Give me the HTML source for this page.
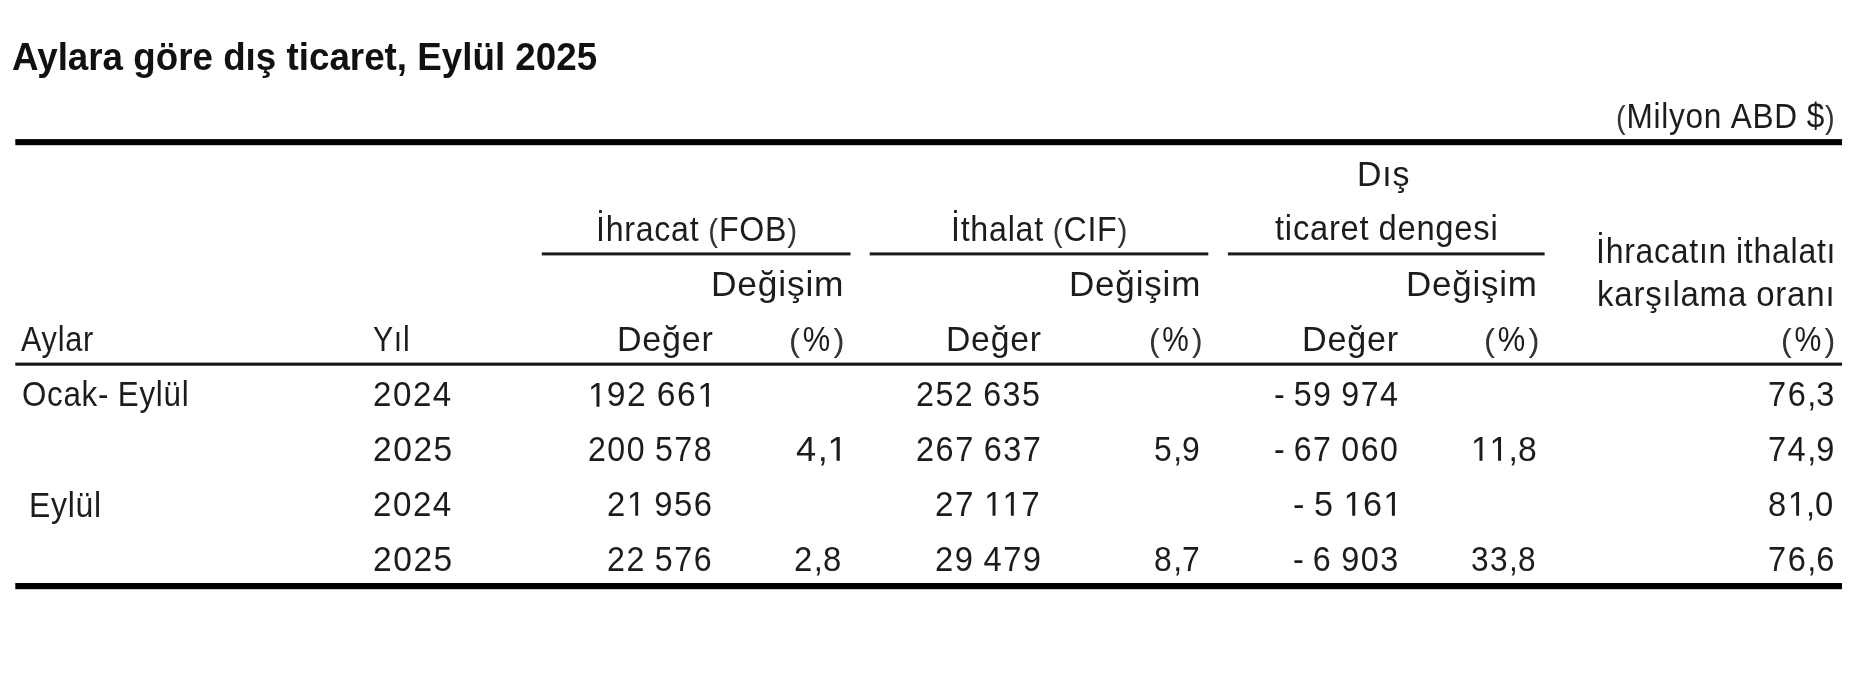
<!DOCTYPE html><html><head><meta charset="utf-8"><style>
html,body{margin:0;padding:0;background:#fff;}body{width:1865px;height:675px;position:relative;overflow:hidden;font-family:"Liberation Sans",sans-serif;color:#1c1c1c;}
.t{position:absolute;white-space:nowrap;line-height:1;transform-origin:0 0;}.l{position:absolute;}.z{letter-spacing:0}.pp{font-size:0.92em;color:#333;}.pct{display:inline-block;transform:scaleX(0.86);}.o{display:inline-block;width:0.5562em;height:0.688em;vertical-align:baseline;fill:currentColor;overflow:visible}
</style></head><body>
<div style="position:absolute;left:0;top:0;width:1865px;height:675px;filter:blur(0.60px)">
<div class="t" id="title" style="left:11.50px;top:37.21px;font-size:39.00px;transform:scaleX(0.9427);font-weight:bold;color:#111;">Aylara göre dış ticaret, Eylül 2025</div>
<div class="t" id="unit" style="left:1615.50px;top:98.91px;font-size:34.50px;transform:scaleX(0.9149);letter-spacing:0.80px;"><span class="pp">(</span>Milyon<span class="z"> </span>ABD<span class="z"> </span>$<span class="pp">)</span></div>
<div class="t" id="dis" style="left:1356.50px;top:157.41px;font-size:34.50px;transform:scaleX(0.9804);letter-spacing:0.80px;">Dış</div>
<div class="t" id="ihr" style="left:596.00px;top:211.91px;font-size:34.50px;transform:scaleX(0.9308);letter-spacing:0.80px;">İhracat<span class="z"> </span><span class="pp">(</span>FOB<span class="pp">)</span></div>
<div class="t" id="ith" style="left:950.50px;top:211.71px;font-size:34.50px;transform:scaleX(0.9326);letter-spacing:0.80px;">İthalat<span class="z"> </span><span class="pp">(</span>CIF<span class="pp">)</span></div>
<div class="t" id="tic" style="left:1275.00px;top:211.32px;font-size:34.50px;transform:scaleX(0.9483);letter-spacing:0.80px;">ticaret<span class="z"> </span>dengesi</div>
<div class="t" id="deg1" style="left:711.00px;top:266.50px;font-size:34.50px;transform:scaleX(1.0242);letter-spacing:0.80px;">Değişim</div>
<div class="t" id="deg2" style="left:1069.00px;top:266.50px;font-size:34.50px;transform:scaleX(1.0146);letter-spacing:0.80px;">Değişim</div>
<div class="t" id="deg3" style="left:1405.50px;top:266.82px;font-size:34.50px;transform:scaleX(1.0113);letter-spacing:0.80px;">Değişim</div>
<div class="t" id="ihith" style="left:1595.50px;top:233.50px;font-size:34.50px;transform:scaleX(0.9270);letter-spacing:0.80px;">İhracatın<span class="z"> </span>ithalatı</div>
<div class="t" id="kars" style="left:1597.00px;top:277.21px;font-size:34.50px;transform:scaleX(0.9572);letter-spacing:0.80px;">karşılama<span class="z"> </span>oranı</div>
<div class="t" id="aylar" style="left:21.00px;top:322.10px;font-size:34.50px;transform:scaleX(0.8890);letter-spacing:0.80px;">Aylar</div>
<div class="t" id="yil" style="left:373.00px;top:322.10px;font-size:34.50px;transform:scaleX(0.8739);letter-spacing:0.80px;">Yıl</div>
<div class="t" id="dg1" style="left:617.00px;top:322.10px;font-size:34.50px;transform:scaleX(0.9852);letter-spacing:0.80px;">Değer</div>
<div class="t" id="pc1" style="left:789.00px;top:322.10px;font-size:34.50px;transform:scaleX(1.0402);letter-spacing:0.80px;"><span class="pp">(</span><span class="pct">%</span><span class="pp">)</span></div>
<div class="t" id="dg2" style="left:946.00px;top:322.10px;font-size:34.50px;transform:scaleX(0.9766);letter-spacing:0.80px;">Değer</div>
<div class="t" id="pc2" style="left:1148.50px;top:322.10px;font-size:34.50px;transform:scaleX(1.0042);letter-spacing:0.80px;"><span class="pp">(</span><span class="pct">%</span><span class="pp">)</span></div>
<div class="t" id="dg3" style="left:1302.00px;top:322.10px;font-size:34.50px;transform:scaleX(0.9894);letter-spacing:0.80px;">Değer</div>
<div class="t" id="pc3" style="left:1483.50px;top:322.10px;font-size:34.50px;transform:scaleX(1.0402);letter-spacing:0.80px;"><span class="pp">(</span><span class="pct">%</span><span class="pp">)</span></div>
<div class="t" id="pc4" style="left:1781.00px;top:322.10px;font-size:34.50px;transform:scaleX(1.0165);letter-spacing:0.80px;"><span class="pp">(</span><span class="pct">%</span><span class="pp">)</span></div>
<div class="t" id="r1a" style="left:22.00px;top:377.41px;font-size:34.50px;transform:scaleX(0.9078);letter-spacing:0.80px;">Ocak-<span class="z"> </span>Eylül</div>
<div class="t" id="r3a" style="left:29.00px;top:487.50px;font-size:34.50px;transform:scaleX(0.9246);letter-spacing:0.80px;">Eylül</div>
<div class="t" id="y0" style="left:373.00px;top:377.32px;font-size:34.50px;transform:scaleX(0.9596);letter-spacing:1.60px;">2024</div>
<div class="t" id="c01" style="left:588.00px;top:377.32px;font-size:34.50px;transform:scaleX(0.9769);letter-spacing:1.60px;"><svg class="o" viewBox="0 0 1139 1409"><path d="M515 1409V172L197 399V229L530 0H696V1409Z"/></svg>92<span class="z"> </span>66<svg class="o" viewBox="0 0 1139 1409"><path d="M515 1409V172L197 399V229L530 0H696V1409Z"/></svg></div>
<div class="t" id="c03" style="left:915.50px;top:377.32px;font-size:34.50px;transform:scaleX(0.9334);letter-spacing:1.60px;">252<span class="z"> </span>635</div>
<div class="t" id="c05" style="left:1274.00px;top:377.32px;font-size:34.50px;transform:scaleX(0.9313);letter-spacing:1.60px;"><span class="z">-</span><span class="z"> </span>59<span class="z"> </span>974</div>
<div class="t" id="c07" style="left:1767.50px;top:377.32px;font-size:34.50px;transform:scaleX(0.9445);letter-spacing:1.60px;">76<span class="z">,</span>3</div>
<div class="t" id="y1" style="left:373.00px;top:432.21px;font-size:34.50px;transform:scaleX(0.9719);letter-spacing:1.60px;">2025</div>
<div class="t" id="c11" style="left:587.50px;top:432.21px;font-size:34.50px;transform:scaleX(0.9308);letter-spacing:1.60px;">200<span class="z"> </span>578</div>
<div class="t" id="c12" style="left:795.50px;top:432.21px;font-size:34.50px;transform:scaleX(1.0491);letter-spacing:1.60px;">4<span class="z">,</span><svg class="o" viewBox="0 0 1139 1409"><path d="M515 1409V172L197 399V229L530 0H696V1409Z"/></svg></div>
<div class="t" id="c13" style="left:915.50px;top:432.21px;font-size:34.50px;transform:scaleX(0.9411);letter-spacing:1.60px;">267<span class="z"> </span>637</div>
<div class="t" id="c14" style="left:1153.50px;top:432.21px;font-size:34.50px;transform:scaleX(0.9227);letter-spacing:1.60px;">5<span class="z">,</span>9</div>
<div class="t" id="c15" style="left:1274.00px;top:432.21px;font-size:34.50px;transform:scaleX(0.9313);letter-spacing:1.60px;"><span class="z">-</span><span class="z"> </span>67<span class="z"> </span>060</div>
<div class="t" id="c16" style="left:1471.00px;top:432.21px;font-size:34.50px;transform:scaleX(0.9777);letter-spacing:1.60px;"><svg class="o" viewBox="0 0 1139 1409"><path d="M515 1409V172L197 399V229L530 0H696V1409Z"/></svg><svg class="o" viewBox="0 0 1139 1409"><path d="M515 1409V172L197 399V229L530 0H696V1409Z"/></svg><span class="z">,</span>8</div>
<div class="t" id="c17" style="left:1767.50px;top:432.21px;font-size:34.50px;transform:scaleX(0.9434);letter-spacing:1.60px;">74<span class="z">,</span>9</div>
<div class="t" id="y2" style="left:373.00px;top:487.10px;font-size:34.50px;transform:scaleX(0.9596);letter-spacing:1.60px;">2024</div>
<div class="t" id="c21" style="left:606.50px;top:487.10px;font-size:34.50px;transform:scaleX(0.9514);letter-spacing:1.60px;">2<svg class="o" viewBox="0 0 1139 1409"><path d="M515 1409V172L197 399V229L530 0H696V1409Z"/></svg><span class="z"> </span>956</div>
<div class="t" id="c23" style="left:934.50px;top:487.10px;font-size:34.50px;transform:scaleX(0.9643);letter-spacing:1.60px;">27<span class="z"> </span><svg class="o" viewBox="0 0 1139 1409"><path d="M515 1409V172L197 399V229L530 0H696V1409Z"/></svg><svg class="o" viewBox="0 0 1139 1409"><path d="M515 1409V172L197 399V229L530 0H696V1409Z"/></svg>7</div>
<div class="t" id="c25" style="left:1293.00px;top:487.10px;font-size:34.50px;transform:scaleX(0.9922);letter-spacing:1.60px;"><span class="z">-</span><span class="z"> </span>5<span class="z"> </span><svg class="o" viewBox="0 0 1139 1409"><path d="M515 1409V172L197 399V229L530 0H696V1409Z"/></svg>6<svg class="o" viewBox="0 0 1139 1409"><path d="M515 1409V172L197 399V229L530 0H696V1409Z"/></svg></div>
<div class="t" id="c27" style="left:1767.50px;top:487.10px;font-size:34.50px;transform:scaleX(0.9487);letter-spacing:1.60px;">8<svg class="o" viewBox="0 0 1139 1409"><path d="M515 1409V172L197 399V229L530 0H696V1409Z"/></svg><span class="z">,</span>0</div>
<div class="t" id="y3" style="left:373.00px;top:541.82px;font-size:34.50px;transform:scaleX(0.9719);letter-spacing:1.60px;">2025</div>
<div class="t" id="c31" style="left:606.50px;top:541.82px;font-size:34.50px;transform:scaleX(0.9340);letter-spacing:1.60px;">22<span class="z"> </span>576</div>
<div class="t" id="c32" style="left:794.00px;top:541.82px;font-size:34.50px;transform:scaleX(0.9524);letter-spacing:1.60px;">2<span class="z">,</span>8</div>
<div class="t" id="c33" style="left:934.50px;top:541.82px;font-size:34.50px;transform:scaleX(0.9468);letter-spacing:1.60px;">29<span class="z"> </span>479</div>
<div class="t" id="c34" style="left:1153.50px;top:541.82px;font-size:34.50px;transform:scaleX(0.9236);letter-spacing:1.60px;">8<span class="z">,</span>7</div>
<div class="t" id="c35" style="left:1293.00px;top:541.82px;font-size:34.50px;transform:scaleX(0.9377);letter-spacing:1.60px;"><span class="z">-</span><span class="z"> </span>6<span class="z"> </span>903</div>
<div class="t" id="c36" style="left:1471.00px;top:541.82px;font-size:34.50px;transform:scaleX(0.9166);letter-spacing:1.60px;">33<span class="z">,</span>8</div>
<div class="t" id="c37" style="left:1767.50px;top:541.82px;font-size:34.50px;transform:scaleX(0.9445);letter-spacing:1.60px;">76<span class="z">,</span>6</div>
<svg class="l" style="left:0;top:0" width="1865" height="675">
<rect x="15.3" y="139.1" width="1826.7" height="6.1" fill="#000"/>
<rect x="541.8" y="252.4" width="308.7" height="3" fill="#1b1b1d"/>
<rect x="869.7" y="252.4" width="338.6" height="3" fill="#1b1b1d"/>
<rect x="1227.9" y="252.4" width="316.7" height="3" fill="#1b1b1d"/>
<rect x="15.3" y="362.6" width="1826.7" height="3.1" fill="#141416"/>
<rect x="15.3" y="583" width="1826.7" height="6.2" fill="#000"/>
</svg>
</div>
</body></html>
